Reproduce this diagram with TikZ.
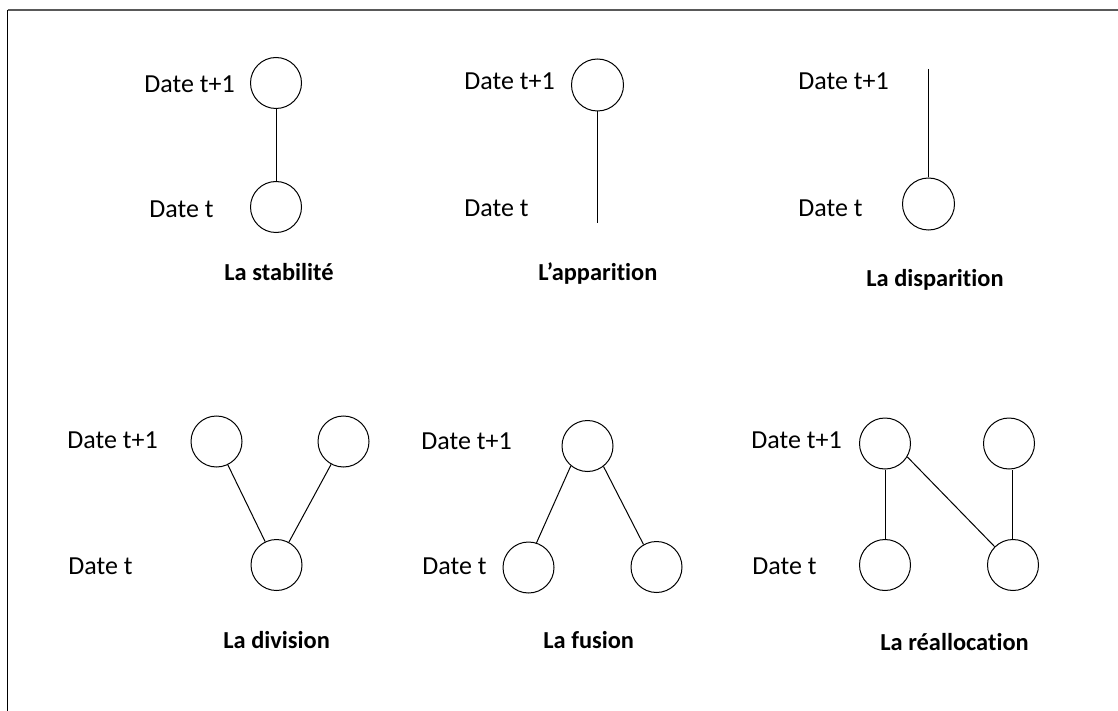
\documentclass[tikz,border=0pt]{standalone}
\usepackage{fontspec}
\setmainfont{Carlito}[Ligatures={NoCommon}]
\begin{document}
\begin{tikzpicture}[x=0.5pt,y=-0.5pt,
  bubble/.style={draw,circle,minimum size=25.5pt,inner sep=0pt,line width=0.5pt},
  datelbl/.style={anchor=base west,inner sep=0pt,font=\fontsize{13}{15}\selectfont},
  title/.style={anchor=base west,inner sep=0pt,font=\fontsize{12.2}{14}\selectfont\bfseries},
  link/.style={line width=0.5pt}]
\useasboundingbox (0,0) rectangle (1118,711);
\coordinate (fTL) at (7.5,10);
\coordinate (fTR) at (1118,10);
\coordinate (fBL) at (7.5,711);
\draw[black!65,line width=1pt] (fTL) -- (fTR);
\draw[black,line width=0.6pt] (fTL) -- (fBL);

% La stabilite
\node[bubble] (s1) at (276,83) {};
\node[bubble] (s0) at (276,207) {};
\draw[link] (s1) -- (s0);
\node[datelbl] (s1l) at (144,93) {Date t+1};
\node[datelbl] (s0l) at (149,218) {Date t};
\node[title] (st) at (224,280) {La stabilité};

% L'apparition
\node[bubble,minimum size=26pt] (a1) at (597.5,85) {};
\coordinate (a0) at (597.5,223);
\draw[link] (a1) -- (a0);
\node[datelbl] (a1l) at (464,90) {Date t+1};
\node[datelbl] (a0l) at (464,216.5) {Date t};
\node[title] (at) at (538,280) {L’apparition};

% La disparition
\coordinate (d1) at (928.5,69);
\node[bubble,minimum size=26pt] (d0) at (928.5,204) {};
\draw[link] (d1) -- (d0);
\node[datelbl] (d1l) at (798,89.5) {Date t+1};
\node[datelbl] (d0l) at (798,216.5) {Date t};
\node[title] (dt) at (866,286) {La disparition};

% La division
\node[bubble] (v1a) at (216.5,441.5) {};
\node[bubble] (v1b) at (343.5,441.5) {};
\node[bubble] (v0) at (276.5,565) {};
\draw[link] (v1a) -- (v0);
\draw[link] (v1b) -- (v0);
\node[datelbl] (v1l) at (67,448) {Date t+1};
\node[datelbl] (v0l) at (68,574) {Date t};
\node[title] (vt) at (223,648) {La division};

% La fusion
\node[bubble] (f1) at (587.5,446) {};
\node[bubble] (f0a) at (528.5,567.5) {};
\node[bubble] (f0b) at (656.5,567) {};
\draw[link] (f1.230) -- (f0a.72);
\draw[link] (f1.308) -- (f0b.120);
\node[datelbl] (f1l) at (421,449) {Date t+1};
\node[datelbl] (f0l) at (422,574) {Date t};
\node[title] (ft) at (543,648) {La fusion};

% La reallocation
\node[bubble] (r1a) at (885,443.5) {};
\node[bubble] (r1b) at (1009,443.5) {};
\node[bubble] (r0a) at (885,565) {};
\node[bubble] (r0b) at (1013,565) {};
\draw[link] (r1a) -- (r0a);
\draw[link] (r1a.-31) -- (r0b.135);
\draw[link] (r0b.north -| 1012,0) -- (r1b.south -| 1012,0);
\node[datelbl] (r1l) at (751,448) {Date t+1};
\node[datelbl] (r0l) at (752,574) {Date t};
\node[title] (rt) at (880,650) {La réallocation};
\end{tikzpicture}
\end{document}
